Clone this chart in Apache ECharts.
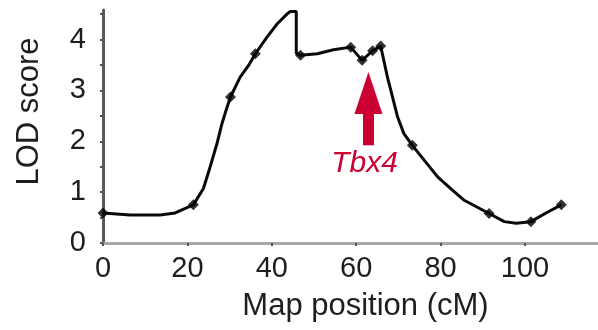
<!DOCTYPE html>
<html>
<head>
<meta charset="utf-8">
<script src="https://cdn.jsdelivr.net/npm/echarts@6/dist/echarts.min.js"></script>
<style>
  html, body { margin: 0; padding: 0; background: #fff; }
  #chart { width: 598px; height: 330px; }
</style>
</head>
<body>
<div id="chart"></div>
<script>
// LOD profile along the chromosome (map position in cM, LOD score)
const curvePos = [0, 6.4, 13.5, 17.1, 21.4, 23.8, 25.4, 27.0, 28.2, 29.4, 30.2, 32.5, 34.5, 36.1,
  38.9, 41.3, 43.6, 44.4, 45.8, 45.8, 46.8, 50.8, 54.6, 58.7, 61.4, 63.9, 65.8, 66.2, 67.4, 68.6,
  69.8, 71.3, 73.3, 76.1, 79.3, 82.4, 85.6, 91.5, 95.1, 97.9, 101.4, 105.4, 108.6];
const curveLod = [0.59, 0.55, 0.55, 0.59, 0.75, 1.07, 1.50, 1.95, 2.35, 2.67, 2.87, 3.26, 3.49, 3.72,
  4.05, 4.31, 4.50, 4.55, 4.55, 3.73, 3.69, 3.72, 3.80, 3.85, 3.59, 3.78, 3.87, 3.72, 3.26, 2.87,
  2.48, 2.15, 1.92, 1.63, 1.30, 1.07, 0.84, 0.58, 0.42, 0.39, 0.42, 0.61, 0.75];

// Genotyped markers on the profile
const markerPos = [0, 21.4, 30.2, 36.1, 46.8, 58.7, 61.4, 63.9, 65.8, 73.3, 91.5, 101.4, 108.6];
const markerLod = [0.59, 0.75, 2.87, 3.72, 3.69, 3.85, 3.59, 3.78, 3.87, 1.92, 0.58, 0.42, 0.75];

// Axis ticks and labels
const xTicks = [0, 20, 40, 60, 80, 100];
const yTicks = [0, 0.5, 1, 1.5, 2, 2.5, 3, 3.5, 4, 4.5];
const yLabels = [0, 1, 2, 3, 4];

// Candidate gene annotation: arrow (tail, head) and label
const geneName = 'Tbx4';
const genePos = 62.9;
const arrowTailLod = 1.92;
const arrowHeadLod = 2.95;
const geneLabelPos = 62.0;
const geneLabelLod = 1.55;

const zip = (xs, ys) => xs.map((x, i) => [x, ys[i]]);

const textFont = 'Liberation Sans, Arial, sans-serif';
const textColor = '#1e1e1e';
const geneColor = '#cc0033';

const chart = echarts.init(document.getElementById('chart'), null, { renderer: 'canvas' });
chart.setOption({
  animation: false,
  backgroundColor: '#ffffff',
  grid: { left: 103, right: 0, top: 10, bottom: 87, containLabel: false },
  xAxis: {
    type: 'value',
    min: 0,
    max: 117.3,
    interval: 20,
    name: 'Map position (cM)',
    nameLocation: 'middle',
    nameGap: 48,
    nameTextStyle: { fontFamily: textFont, fontSize: 31, color: textColor, padding: [0, 0, 0, 30] },
    axisLine: { show: true, onZero: false, lineStyle: { color: '#a8a8a8', width: 3 } },
    axisTick: { show: true, length: 3, customValues: xTicks, lineStyle: { color: '#555', width: 2 } },
    axisLabel: {
      customValues: xTicks,
      margin: 11,
      fontFamily: textFont,
      fontSize: 29,
      color: textColor,
      formatter: v => (v % 20 === 0 ? String(v) : '')
    },
    splitLine: { show: false }
  },
  yAxis: {
    type: 'value',
    min: 0,
    max: 4.58,
    interval: 0.5,
    name: 'LOD score',
    nameLocation: 'middle',
    nameGap: 58,
    nameRotate: 90,
    nameTextStyle: { fontFamily: textFont, fontSize: 31, color: textColor, padding: [0, 0, 0, 30] },
    axisLine: { show: true, onZero: false, lineStyle: { color: '#5a5a5a', width: 3 } },
    axisTick: { show: true, length: 3, customValues: yTicks, lineStyle: { color: '#555', width: 2 } },
    axisLabel: {
      customValues: yLabels,
      margin: 17,
      fontFamily: textFont,
      fontSize: 29,
      color: textColor,
      formatter: v => (Number.isInteger(v) ? String(v) : '')
    },
    splitLine: { show: false }
  },
  series: [
    {
      type: 'line',
      name: 'LOD',
      data: zip(curvePos, curveLod),
      showSymbol: false,
      symbol: 'none',
      smooth: false,
      lineStyle: { color: '#0a0a0a', width: 3 },
      z: 3,
      markLine: {
        silent: true,
        symbol: ['none', 'triangle'],
        symbolSize: [28, 42],
        lineStyle: { color: geneColor, width: 11, type: 'solid' },
        label: { show: false },
        data: [[{ coord: [genePos, arrowTailLod] }, { coord: [genePos, arrowHeadLod] }]]
      },
      markPoint: {
        silent: true,
        symbol: 'circle',
        symbolSize: 0,
        label: {
          show: true,
          position: 'inside',
          formatter: geneName,
          fontFamily: textFont,
          fontStyle: 'italic',
          fontSize: 30,
          color: geneColor
        },
        data: [{ coord: [geneLabelPos, geneLabelLod] }]
      }
    },
    {
      type: 'scatter',
      name: 'Markers',
      data: zip(markerPos, markerLod),
      symbol: 'diamond',
      symbolSize: 11,
      itemStyle: { color: '#000' },
      z: 4
    }
  ]
});
</script>
</body>
</html>
